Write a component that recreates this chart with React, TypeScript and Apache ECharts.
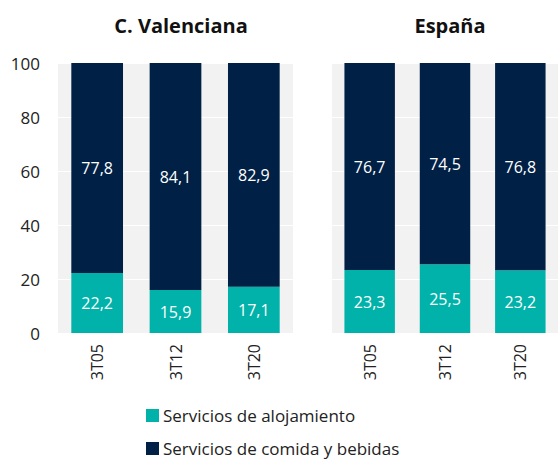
import React, { useEffect, useRef } from "react";
import * as echarts from "echarts";

const categories = ["3T05", "3T12", "3T20"];
const valAlojamiento = [22.2, 15.9, 17.1];
const valComida = [77.8, 84.1, 82.9];
const espAlojamiento = [23.3, 25.5, 23.2];
const espComida = [76.7, 74.5, 76.8];
const panelTitles = ["C. Valenciana", "España"];
const seriesNames = ["Servicios de alojamiento", "Servicios de comida y bebidas"];

const TEAL = "#00B2A9";
const NAVY = "#002145";
const FONT = "'Open Sans', 'Noto Sans', sans-serif";

export default function App() {
  const ref = useRef<HTMLDivElement>(null);
  useEffect(() => {
    const chart = echarts.init(ref.current!, null, { renderer: "svg" });
    const fmt = (p: any) => String(p.value).replace(".", ",");
    const label = {
      show: true,
      position: "inside",
      color: "#ffffff",
      fontSize: 16,
      fontFamily: FONT,
      formatter: fmt,
    };
    const grids = [
      { left: 58, top: 63, width: 235, height: 270 },
      { left: 332, top: 63, width: 228, height: 270 },
    ];
    const legendBase = {
      orient: "vertical",
      left: 146,
      padding: 0,
      itemWidth: 13,
      itemHeight: 13,
      itemGap: 0,
      icon: "rect",
      textStyle: { fontSize: 17, lineHeight: 16, color: "#222", fontFamily: FONT, padding: [0, 0, 0, -1] },
    };
    chart.setOption({
      animation: false,
      textStyle: { fontFamily: FONT },
      title: [
        {
          text: panelTitles[0],
          left: 176,
          top: 10,
          textAlign: "center",
          textStyle: { fontSize: 20, fontWeight: "bold", color: "#111", fontFamily: FONT },
        },
        {
          text: panelTitles[1],
          left: 445,
          top: 10,
          textAlign: "center",
          textStyle: { fontSize: 20, fontWeight: "bold", color: "#111", fontFamily: FONT },
        },
      ],
      legend: [
        { ...legendBase, top: 407, data: [seriesNames[0]] },
        { ...legendBase, top: 440, data: [seriesNames[1]] },
      ],
      grid: grids.map((g) => ({ ...g, show: true, backgroundColor: "#f2f2f2", borderWidth: 0 })),
      xAxis: [0, 1].map((i) => ({
        type: "category",
        gridIndex: i,
        data: categories,
        axisLine: { show: false },
        axisTick: { show: false },
        axisLabel: { rotate: 90, fontSize: 16, color: "#222", margin: 11, fontFamily: FONT },
      })),
      yAxis: [0, 1].map((i) => ({
        type: "value",
        gridIndex: i,
        min: 0,
        max: 100,
        interval: 20,
        axisLine: { show: false },
        axisTick: { show: false },
        splitLine: { show: true, lineStyle: { color: "#ffffff", width: 1 } },
        axisLabel: { show: i === 0, fontSize: 17, color: "#222", margin: 18, fontFamily: FONT },
      })),
      series: [
        { name: seriesNames[0], type: "bar", stack: "a", xAxisIndex: 0, yAxisIndex: 0, data: valAlojamiento, barWidth: "66%", itemStyle: { color: TEAL }, label },
        { name: seriesNames[1], type: "bar", stack: "a", xAxisIndex: 0, yAxisIndex: 0, data: valComida, barWidth: "66%", itemStyle: { color: NAVY }, label },
        { name: seriesNames[0], type: "bar", stack: "b", xAxisIndex: 1, yAxisIndex: 1, data: espAlojamiento, barWidth: "67%", itemStyle: { color: TEAL }, label },
        { name: seriesNames[1], type: "bar", stack: "b", xAxisIndex: 1, yAxisIndex: 1, data: espComida, barWidth: "67%", itemStyle: { color: NAVY }, label },
      ],
    });
    return () => chart.dispose();
  }, []);
  return <div ref={ref} style={{ position: "absolute", left: 0, top: 0, width: 558, height: 459 }} />;
}
